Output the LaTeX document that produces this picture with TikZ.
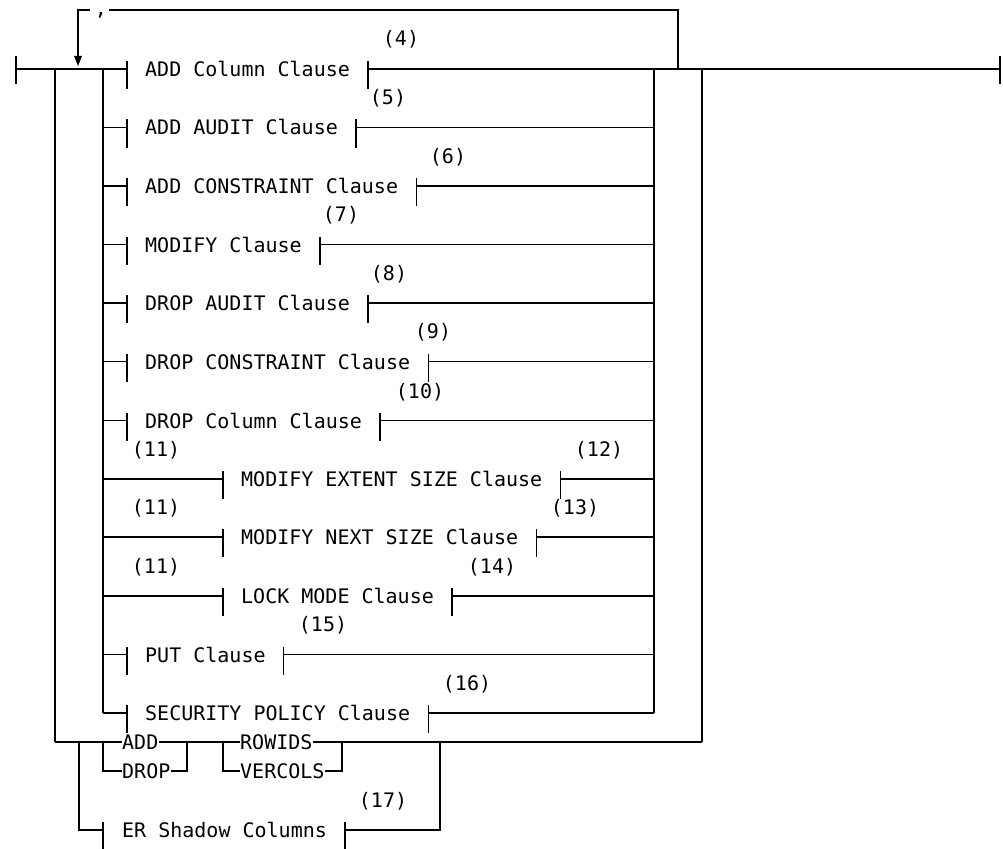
\documentclass[tikz,border=0pt]{standalone}
\usepackage{fontspec}
\newfontfamily\rrmono{DejaVu Sans Mono}
\tikzset{
  rr/.style={line width=1.3pt},
  item/.style={font={\rrmono\fontsize{20}{24}\selectfont}, inner sep=0pt, anchor=base west},
  lbl/.style={font={\rrmono\fontsize{20}{24}\selectfont}, inner sep=0pt, anchor=base},
}
% #1 name, #2 row y, #3 start bar x, #4 text
\newcommand\rrclause[4]{%
  \node[item] (#1) at ({#3+18},{#2+7.5}) {#4};
  \coordinate (#1s) at (#3,#2);
  \coordinate (#1e) at ([xshift=18pt]#1.base east);
  \draw[rr] (#3,#2-8) -- (#3,#2+20);
  \draw[rr] (#1e |- 0,#2-8) -- (#1e |- 0,#2+20);
  \draw[rr] (103,#2) -- (#1s);
  \draw[rr] (#1e |- 0,#2) -- (654,#2);
}
\begin{document}
\begin{tikzpicture}[x=1pt,y=-1pt]
\useasboundingbox (0,0) rectangle (1003,848);
% main line ends
\coordinate (start) at (16,69);
\coordinate (end) at (1000,69);
\draw[rr] (16,56) -- (16,84);
\draw[rr] (1000,56) -- (1000,84);
\draw[rr] (start) -- (103,69);
\draw[rr] (654,69) -- (end);
% repeat loop
\node[lbl] (comma) at (101,16) {,};
\draw[rr] (678,69) -- (678,10) -- (109,10);
\draw[rr] (90,10) -- (78,10) -- (78,58);
\fill (74,56) -- (82,56) -- (78,66) -- cycle;
% verticals
\draw[rr] (55,69) -- (55,742);
\draw[rr] (103,69) -- (103,713);
\draw[rr] (654,69) -- (654,713);
\draw[rr] (702,69) -- (702,742);
% clauses
\rrclause{c1}{69}{127}{ADD Column Clause}
\rrclause{c2}{127.5}{127}{ADD AUDIT Clause}
\rrclause{c3}{186}{127}{ADD CONSTRAINT Clause}
\rrclause{c4}{244.5}{127}{MODIFY Clause}
\rrclause{c5}{303}{127}{DROP AUDIT Clause}
\rrclause{c6}{361.5}{127}{DROP CONSTRAINT Clause}
\rrclause{c7}{420.5}{127}{DROP Column Clause}
\rrclause{c8}{479}{223}{MODIFY EXTENT SIZE Clause}
\rrclause{c9}{537}{223}{MODIFY NEXT SIZE Clause}
\rrclause{c10}{596}{223}{LOCK MODE Clause}
\rrclause{c11}{654.5}{127}{PUT Clause}
\rrclause{c12}{713}{127}{SECURITY POLICY Clause}
% footnote labels
\node[lbl] (n4) at (401,46) {(4)};
\node[lbl] (n5) at (388,105) {(5)};
\node[lbl] (n6) at (448,163) {(6)};
\node[lbl] (n7) at (341,221) {(7)};
\node[lbl] (n8) at (389,280) {(8)};
\node[lbl] (n9) at (433,338) {(9)};
\node[lbl] (n10) at (420,398) {(10)};
\node[lbl] (n11a) at (156,456) {(11)};
\node[lbl] (n12) at (599,456) {(12)};
\node[lbl] (n11b) at (156,514) {(11)};
\node[lbl] (n13) at (575,514) {(13)};
\node[lbl] (n11c) at (156,573) {(11)};
\node[lbl] (n14) at (492,573) {(14)};
\node[lbl] (n15) at (323,631) {(15)};
\node[lbl] (n16) at (467,690) {(16)};
\node[lbl] (n17) at (383,807) {(17)};
% ADD / DROP ROWIDS / VERCOLS row
\node[item] (add) at (122,749.5) {ADD};
\node[item] (drop) at (122,778.5) {DROP};
\node[item] (rowids) at (240,749.5) {ROWIDS};
\node[item] (vercols) at (240,778.5) {VERCOLS};
\draw[rr] (55,742) -- (add.base west |- 0,742);
\draw[rr] (add.base east |- 0,742) -- (rowids.base west |- 0,742);
\draw[rr] (rowids.base east |- 0,742) -- (702,742);
\draw[rr] (103,742) -- (103,771) -- (drop.base west |- 0,771);
\draw[rr] (drop.base east |- 0,771) -- (187,771) -- (187,742);
\draw[rr] (223,742) -- (223,771) -- (vercols.base west |- 0,771);
\draw[rr] (vercols.base east |- 0,771) -- (342,771) -- (342,742);
% ER Shadow Columns
\node[item] (er) at (122,837.5) {ER Shadow Columns};
\coordinate (ere) at ([xshift=18pt]er.base east);
\draw[rr] (79,742) -- (79,830) -- (103,830);
\draw[rr] (103,822) -- (103,850);
\draw[rr] (ere |- 0,822) -- (ere |- 0,850);
\draw[rr] (ere |- 0,830) -- (440,830) -- (440,742);
\end{tikzpicture}
\end{document}
